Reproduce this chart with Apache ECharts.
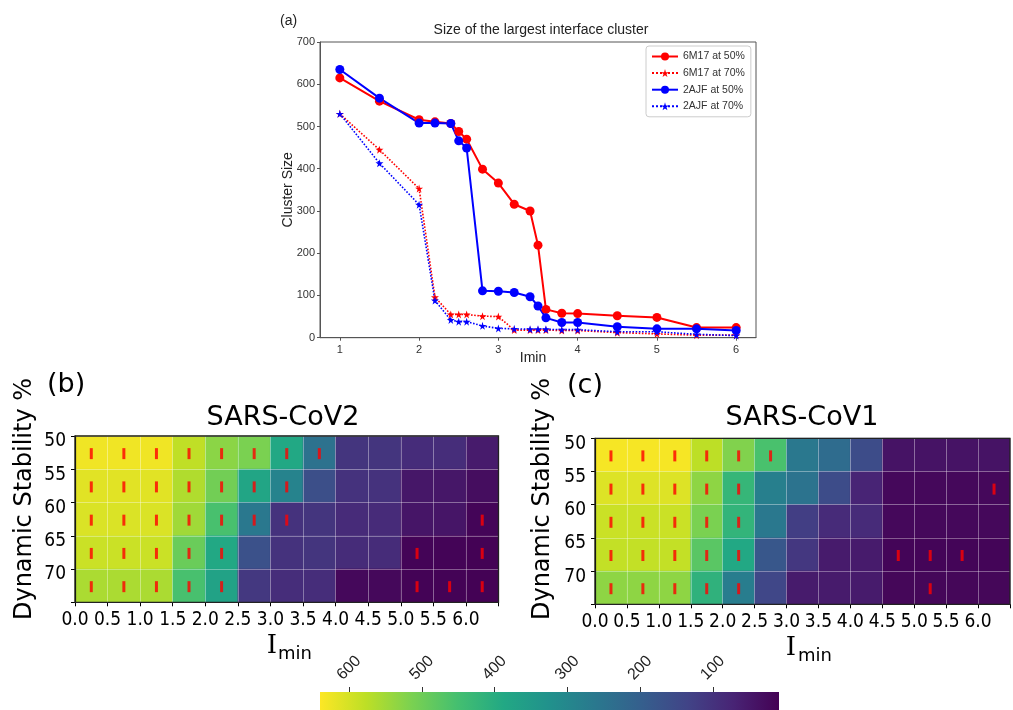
<!DOCTYPE html>
<html><head><meta charset="utf-8">
<script src="https://cdn.jsdelivr.net/npm/echarts@6/dist/echarts.min.js"></script>
<style>html,body{margin:0;padding:0;background:#fff}#c{width:1013px;height:710px}</style>
</head><body><div id="c"></div>
<script>
// ---------- (a) line chart data ----------
const imin = [1, 1.5, 2, 2.2, 2.4, 2.5, 2.6, 2.8, 3, 3.2, 3.4, 3.5, 3.6, 3.8, 4, 4.5, 5, 5.5, 6];
const m6m17_50 = [615, 560, 516, 511, 507, 488, 470, 399, 366, 316, 300, 219, 67, 58, 57, 52, 48, 24, 24];
const m6m17_70 = [530, 445, 353, 96, 55, 55, 55, 51, 50, 18, 18, 18, 18, 17, 17, 12, 9, 6, 6];
const a2ajf_50 = [635, 567, 508, 508, 507, 466, 449, 111, 110, 107, 97, 75, 47, 36, 36, 26, 21, 21, 17];
const a2ajf_70 = [530, 413, 315, 88, 42, 38, 38, 28, 22, 21, 20, 20, 20, 19, 19, 14, 14, 8, 5];
const lineTicks = [1, 2, 3, 4, 5, 6];

// ---------- heatmap data ----------
const iminBins = [0, 0.5, 1.0, 1.5, 2.0, 2.5, 3.0, 3.5, 4.0, 4.5, 5.0, 5.5, 6.0];
const stabBins = [50, 55, 60, 65, 70];
const cov2_50 = [627, 627, 627, 580, 530, 514, 388, 245, 105, 105, 88, 90, 55];
const cov2_55 = [612, 612, 612, 565, 505, 380, 290, 160, 100, 100, 48, 48, 30];
const cov2_60 = [605, 605, 605, 550, 455, 262, 100, 105, 85, 85, 45, 45, 16];
const cov2_65 = [590, 590, 590, 495, 388, 165, 100, 105, 87, 87, 15, 15, 10];
const cov2_70 = [560, 560, 560, 455, 370, 112, 90, 90, 22, 22, 12, 12, 10];
const cov1_50 = [633, 633, 633, 577, 520, 457, 262, 230, 155, 42, 42, 42, 42];
const cov1_55 = [608, 608, 608, 533, 425, 280, 250, 155, 73, 22, 22, 22, 22];
const cov1_60 = [590, 590, 590, 514, 420, 262, 123, 85, 85, 22, 22, 22, 22];
const cov1_65 = [583, 583, 583, 476, 388, 180, 110, 55, 55, 16, 16, 16, 16];
const cov1_70 = [533, 533, 533, 413, 275, 142, 55, 55, 55, 19, 19, 19, 19];
// red "I" marks: Imin centres per stability row
const cov2Marks_50 = [0.25, 0.75, 1.25, 1.75, 2.25, 2.75, 3.25, 3.75];
const cov2Marks_55 = [0.25, 0.75, 1.25, 1.75, 2.25, 2.75, 3.25];
const cov2Marks_60 = [0.25, 0.75, 1.25, 1.75, 2.25, 2.75, 3.25, 6.25];
const cov2Marks_65 = [0.25, 0.75, 1.25, 1.75, 2.25, 5.25, 6.25];
const cov2Marks_70 = [0.25, 0.75, 1.25, 1.75, 2.25, 5.25, 5.75, 6.25];
const cov1Marks_50 = [0.25, 0.75, 1.25, 1.75, 2.25, 2.75];
const cov1Marks_55 = [0.25, 0.75, 1.25, 1.75, 2.25, 6.25];
const cov1Marks_60 = [0.25, 0.75, 1.25, 1.75, 2.25];
const cov1Marks_65 = [0.25, 0.75, 1.25, 1.75, 2.25, 4.75, 5.25, 5.75];
const cov1Marks_70 = [0.25, 0.75, 1.25, 1.75, 2.25, 5.25];
// colour scale
const cbMin = 9, cbMax = 640;
const cbTicks = [600, 500, 400, 300, 200, 100];
const viridis = ['#440154','#482475','#414487','#355f8d','#2a788e','#21918c','#22a884','#44bf70','#7ad151','#bddf26','#fde725'];

// ---------- build ----------
const binW = 0.5, binH = 5;
function cells(rows) {
  const out = [];
  rows.forEach((r, j) => r.forEach((v, i) => out.push([iminBins[i], stabBins[j], v])));
  return out;
}
function marks(rows) {
  const out = [];
  rows.forEach((r, j) => r.forEach(x => out.push([x, stabBins[j] + binH / 2])));
  return out;
}
const cov2Cells = cells([cov2_50, cov2_55, cov2_60, cov2_65, cov2_70]);
const cov1Cells = cells([cov1_50, cov1_55, cov1_60, cov1_65, cov1_70]);
const cov2MarkData = marks([cov2Marks_50, cov2Marks_55, cov2Marks_60, cov2Marks_65, cov2Marks_70]);
const cov1MarkData = marks([cov1Marks_50, cov1Marks_55, cov1Marks_60, cov1Marks_65, cov1Marks_70]);
const pair = (xs, ys) => xs.map((x, i) => [x, ys[i]]);

function cellRender(params, api) {
  const x = api.value(0), y = api.value(1);
  const p0 = api.coord([x, y]), p1 = api.coord([x + binW, y + binH]);
  const c = api.visual('color');
  return { type: 'rect',
    shape: { x: Math.min(p0[0], p1[0]), y: Math.min(p0[1], p1[1]), width: Math.abs(p1[0] - p0[0]), height: Math.abs(p1[1] - p0[1]) },
    style: { fill: c, stroke: c, lineWidth: 0.6 } };
}
function cbRender(params, api) {
  const p0 = api.coord([api.value(0), 0]), p1 = api.coord([api.value(1), 1]);
  const stops = viridis.slice().reverse().map((c, i, a) => ({ offset: i / (a.length - 1), color: c }));
  return { type: 'rect',
    shape: { x: Math.min(p0[0], p1[0]), y: Math.min(p0[1], p1[1]), width: Math.abs(p1[0] - p0[0]), height: Math.abs(p1[1] - p0[1]) },
    style: { fill: { type: 'linear', x: 0, y: 0, x2: 1, y2: 0, colorStops: stops } } };
}

const star = 'path://M50,0 L61,35 L98,35 L68,57 L79,91 L50,70 L21,91 L32,57 L2,35 L39,35 Z';
const narrow = '"Liberation Sans Narrow", "Arial Narrow", "DejaVu Sans Condensed", sans-serif';
const dv = '"DejaVu Sans", Verdana, sans-serif';

function hmX(grid) {
  return { type: 'value', gridIndex: grid, min: 0, max: 6.5, interval: 0.5, z: 5,
    axisLine: { show: true, onZero: false, lineStyle: { color: '#000', width: 1.2 } },
    axisTick: { show: true, length: 4, lineStyle: { color: '#000' } },
    axisLabel: { fontFamily: narrow, fontSize: 19, color: '#000', margin: 8, formatter: v => v >= 6.5 ? '' : v.toFixed(1) },
    splitLine: { show: true, lineStyle: { color: 'rgba(255,255,255,0.35)', width: 1 } } };
}
function hmY(grid) {
  return { type: 'value', gridIndex: grid, min: 50, max: 75, interval: 5, inverse: true, z: 5,
    axisLine: { show: true, onZero: false, lineStyle: { color: '#000', width: 1.2 } },
    axisTick: { show: true, length: 4, lineStyle: { color: '#000' } },
    axisLabel: { fontFamily: narrow, fontSize: 19, color: '#000', margin: 9, verticalAlign: 'top', lineHeight: 11, formatter: v => v >= 75 ? '' : String(v) },
    splitLine: { show: true, lineStyle: { color: 'rgba(255,255,255,0.35)', width: 1 } } };
}

const option = {
  animation: false,
  textStyle: { fontFamily: '"Liberation Sans", Arial, sans-serif' },
  grid: [
    { left: 320, top: 42, width: 436, height: 295.7, show: true, borderColor: '#555', borderWidth: 1, backgroundColor: 'transparent' },
    { left: 75, top: 436, width: 423.5, height: 166.3, show: true, z: 6, borderColor: '#222', borderWidth: 1.3, backgroundColor: 'transparent' },
    { left: 595, top: 438.3, width: 422.5, height: 166, show: true, z: 6, borderColor: '#222', borderWidth: 1.3, backgroundColor: 'transparent' },
    { left: 320, top: 692, width: 459, height: 18, show: false }
  ],
  xAxis: [
    { type: 'value', gridIndex: 0, min: 0.75, max: 6.25,
      name: 'Imin', nameLocation: 'middle', nameGap: 13, nameMoveOverlap: false, nameTextStyle: { fontSize: 14, color: '#222', padding: [0, 10, 0, 0] },
      axisLine: { onZero: false, lineStyle: { color: '#555' } },
      axisTick: { show: true, length: 3, customValues: lineTicks, lineStyle: { color: '#555' } },
      axisLabel: { customValues: lineTicks, fontSize: 11, color: '#333', margin: 7 },
      splitLine: { show: false } },
    hmX(1), hmX(2),
    { type: 'value', gridIndex: 3, min: cbMin, max: cbMax, inverse: true, position: 'top', z: 10,
      axisLine: { show: true, onZero: false, lineStyle: { color: 'rgba(0,0,0,0)' } },
      axisTick: { show: true, inside: false, length: 5, customValues: cbTicks, lineStyle: { color: '#333', width: 1 } },
      axisLabel: { customValues: cbTicks, rotate: -45, align: 'center', verticalAlign: 'middle', margin: 24, fontSize: 16, color: '#222' },
      splitLine: { show: false } }
  ],
  yAxis: [
    { type: 'value', gridIndex: 0, min: 0, max: 700, interval: 100,
      name: 'Cluster Size', nameLocation: 'middle', nameGap: 25, nameMoveOverlap: false, nameTextStyle: { fontSize: 14, color: '#222' },
      axisLine: { show: true, onZero: false, lineStyle: { color: '#555' } },
      axisTick: { show: true, length: 3, lineStyle: { color: '#555' } },
      axisLabel: { fontSize: 11, color: '#333', margin: 5 },
      splitLine: { show: false } },
    hmY(1), hmY(2),
    { type: 'value', gridIndex: 3, min: 0, max: 1, show: false }
  ],
  visualMap: [{ type: 'continuous', show: false, min: cbMin, max: cbMax, dimension: 2, seriesIndex: [4, 5], inRange: { color: viridis } }],
  legend: {
    orient: 'vertical', left: 646, top: 46, itemWidth: 26, itemHeight: 10, itemGap: 5.6,
    padding: [5, 6, 5, 5], borderColor: '#ccc', borderWidth: 1, borderRadius: 3,
    textStyle: { fontSize: 10.5, color: '#333' },
    data: ['6M17 at 50%', '6M17 at 70%', '2AJF at 50%', '2AJF at 70%']
  },
  series: [
    { name: '6M17 at 50%', type: 'line', xAxisIndex: 0, yAxisIndex: 0, data: pair(imin, m6m17_50),
      symbol: 'circle', symbolSize: 9, itemStyle: { color: '#ff0000' }, lineStyle: { color: '#ff0000', width: 2 } },
    { name: '6M17 at 70%', type: 'line', xAxisIndex: 0, yAxisIndex: 0, data: pair(imin, m6m17_70),
      symbol: star, symbolSize: 8, itemStyle: { color: '#ff0000' }, lineStyle: { color: '#ff0000', width: 1.6, type: 'dotted' } },
    { name: '2AJF at 50%', type: 'line', xAxisIndex: 0, yAxisIndex: 0, data: pair(imin, a2ajf_50),
      symbol: 'circle', symbolSize: 9, itemStyle: { color: '#0000ff' }, lineStyle: { color: '#0000ff', width: 2 } },
    { name: '2AJF at 70%', type: 'line', xAxisIndex: 0, yAxisIndex: 0, data: pair(imin, a2ajf_70),
      symbol: star, symbolSize: 8, itemStyle: { color: '#0000ff' }, lineStyle: { color: '#0000ff', width: 1.6, type: 'dotted' } },
    { type: 'custom', xAxisIndex: 1, yAxisIndex: 1, renderItem: cellRender, data: cov2Cells, encode: { x: 0, y: 1 }, z: 1, silent: true },
    { type: 'custom', xAxisIndex: 2, yAxisIndex: 2, renderItem: cellRender, data: cov1Cells, encode: { x: 0, y: 1 }, z: 1, silent: true },
    { type: 'scatter', xAxisIndex: 1, yAxisIndex: 1, data: cov2MarkData, symbol: 'rect', symbolSize: [3, 11], symbolOffset: [0, 1], itemStyle: { color: '#ff0000' }, z: 7, silent: true },
    { type: 'scatter', xAxisIndex: 2, yAxisIndex: 2, data: cov1MarkData, symbol: 'rect', symbolSize: [3, 11], symbolOffset: [0, 1], itemStyle: { color: '#ff0000' }, z: 7, silent: true },
    { type: 'custom', xAxisIndex: 3, yAxisIndex: 3, renderItem: cbRender, data: [[cbMax, cbMin]], silent: true, z: 1 }
  ],
  graphic: [
    { type: 'text', left: 280, top: 14, style: { text: '(a)', fontSize: 14, fill: '#222', fontFamily: '"Liberation Sans", Arial, sans-serif' } },
    { type: 'text', x: 541, y: 30, style: { text: 'Size of the largest interface cluster', fontSize: 14, fill: '#222', align: 'center', verticalAlign: 'middle', fontFamily: '"Liberation Sans", Arial, sans-serif' } },
    { type: 'text', x: 47, y: 385, style: { text: '(b)', fontSize: 27, fill: '#000', verticalAlign: 'middle', fontFamily: dv } },
    { type: 'text', x: 567, y: 386, style: { text: '(c)', fontSize: 27, fill: '#000', verticalAlign: 'middle', fontFamily: dv } },
    { type: 'text', x: 283, y: 418, style: { text: 'SARS-CoV2', fontSize: 27, fill: '#000', align: 'center', verticalAlign: 'middle', fontFamily: dv } },
    { type: 'text', x: 802, y: 418, style: { text: 'SARS-CoV1', fontSize: 27, fill: '#000', align: 'center', verticalAlign: 'middle', fontFamily: dv } },
    { type: 'text', x: 25, y: 499, rotation: Math.PI / 2, style: { text: 'Dynamic Stability %', fontSize: 24, fill: '#000', align: 'center', verticalAlign: 'middle', fontFamily: dv } },
    { type: 'text', x: 543, y: 499, rotation: Math.PI / 2, style: { text: 'Dynamic Stability %', fontSize: 24, fill: '#000', align: 'center', verticalAlign: 'middle', fontFamily: dv } },
    { type: 'text', x: 272, y: 646, style: { text: 'I', fontSize: 26, fill: '#000', align: 'center', verticalAlign: 'middle', fontFamily: '"DejaVu Serif", serif' } },
    { type: 'text', x: 278, y: 654, style: { text: 'min', fontSize: 18, fill: '#000', verticalAlign: 'middle', fontFamily: dv } },
    { type: 'text', x: 791, y: 648, style: { text: 'I', fontSize: 26, fill: '#000', align: 'center', verticalAlign: 'middle', fontFamily: '"DejaVu Serif", serif' } },
    { type: 'text', x: 798, y: 656, style: { text: 'min', fontSize: 18, fill: '#000', verticalAlign: 'middle', fontFamily: dv } }
  ]
};
const chart = echarts.init(document.getElementById('c'), null, { renderer: 'canvas' });
chart.setOption(option);
</script></body></html>
